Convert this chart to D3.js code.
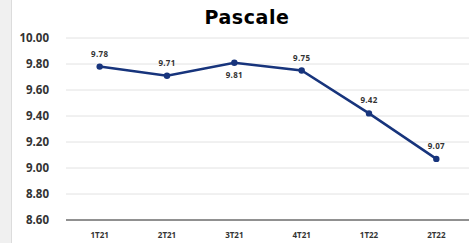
<!DOCTYPE html>
<html>
<head>
<meta charset="utf-8">
<script src="https://cdn.jsdelivr.net/npm/d3@7"></script>
<style>
  body { margin: 0; background: #fff; }
  svg { display: block; font-family: "Open Sans", "DejaVu Sans", sans-serif; }
</style>
</head>
<body>
<script>
// quarters and values of the chart
var quarters = ["1T21", "2T21", "3T21", "4T21", "1T22", "2T22"];
var values = [9.78, 9.71, 9.81, 9.75, 9.42, 9.07];
// label above (-1) or below (1) the point
var label_side = [-1, -1, 1, -1, -1, -1];
var y_ticks = [8.60, 8.80, 9.00, 9.20, 9.40, 9.60, 9.80, 10.00];

var svg_width = 471;
var svg_height = 243;

var svg = d3.select("body")
  .append("svg")
  .attr("width", svg_width)
  .attr("height", svg_height);

// gray strip on the left
svg.append("rect")
  .attr("x", 0).attr("y", 0)
  .attr("width", 11).attr("height", svg_height)
  .attr("fill", "#f0f0f0");
svg.append("line")
  .attr("x1", 11.5).attr("x2", 11.5)
  .attr("y1", 0).attr("y2", svg_height)
  .attr("stroke", "#dcdcdc");

// scales
var x_scale = d3.scaleBand()
  .domain(quarters)
  .range([66, 470]);

var y_scale = d3.scaleLinear()
  .domain([8.6, 10.0])
  .range([220, 38]);

// gridlines
svg.selectAll(".grid")
  .data(y_ticks.slice(1))
  .enter()
  .append("line")
  .attr("x1", 66).attr("x2", 469)
  .attr("y1", function(d) { return y_scale(d); })
  .attr("y2", function(d) { return y_scale(d); })
  .attr("stroke", "#e2e2e2")
  .attr("stroke-width", 1);

// baseline
svg.append("line")
  .attr("x1", 66).attr("x2", 469)
  .attr("y1", y_scale(8.6)).attr("y2", y_scale(8.6))
  .attr("stroke", "#222")
  .attr("stroke-width", 1);

// y axis labels
var y_axis = d3.axisLeft(y_scale)
  .tickValues(y_ticks)
  .tickFormat(d3.format(".2f"))
  .tickSize(0)
  .tickPadding(0);

svg.append("g")
  .attr("transform", "translate(49,0)")
  .call(y_axis)
  .call(function(g) { g.select(".domain").remove(); })
  .selectAll("text")
  .attr("font-size", 11.5)
  .attr("font-weight", "bold")
  .attr("fill", "#333")
  .attr("font-family", "\"Open Sans\", sans-serif");

// x axis labels
var x_axis = d3.axisBottom(x_scale).tickSize(0).tickPadding(0);

svg.append("g")
  .attr("transform", "translate(0,232)")
  .call(x_axis)
  .call(function(g) { g.select(".domain").remove(); })
  .selectAll("text")
  .attr("font-size", 8)
  .attr("font-weight", "bold")
  .attr("fill", "#333")
  .attr("font-family", "\"Open Sans\", sans-serif");

// line
var line = d3.line()
  .x(function(d, i) { return x_scale(quarters[i]) + x_scale.bandwidth() / 2; })
  .y(function(d) { return y_scale(d); });

svg.append("path")
  .datum(values)
  .attr("d", line)
  .attr("fill", "none")
  .attr("stroke", "#17347c")
  .attr("stroke-width", 2.5);

svg.selectAll("circle")
  .data(values)
  .enter()
  .append("circle")
  .attr("cx", function(d, i) { return x_scale(quarters[i]) + x_scale.bandwidth() / 2; })
  .attr("cy", function(d) { return y_scale(d); })
  .attr("r", 3.2)
  .attr("fill", "#17347c");

// data labels
svg.selectAll(".lbl")
  .data(values)
  .enter()
  .append("text")
  .attr("x", function(d, i) { return x_scale(quarters[i]) + x_scale.bandwidth() / 2; })
  .attr("y", function(d, i) { return y_scale(d) + (label_side[i] < 0 ? -10 : 15); })
  .attr("text-anchor", "middle")
  .attr("font-size", 8)
  .attr("font-weight", "bold")
  .attr("fill", "#333")
  .attr("letter-spacing", 0.3)
  .text(function(d) { return d.toFixed(2); });

// title
svg.append("text")
  .attr("x", 247)
  .attr("y", 24)
  .attr("text-anchor", "middle")
  .attr("font-size", 19)
  .attr("font-weight", "bold")
  .attr("fill", "#000")
  .attr("letter-spacing", 0.6)
  .attr("font-family", "\"DejaVu Sans\", sans-serif")
  .text("Pascale");
</script>
</body>
</html>
